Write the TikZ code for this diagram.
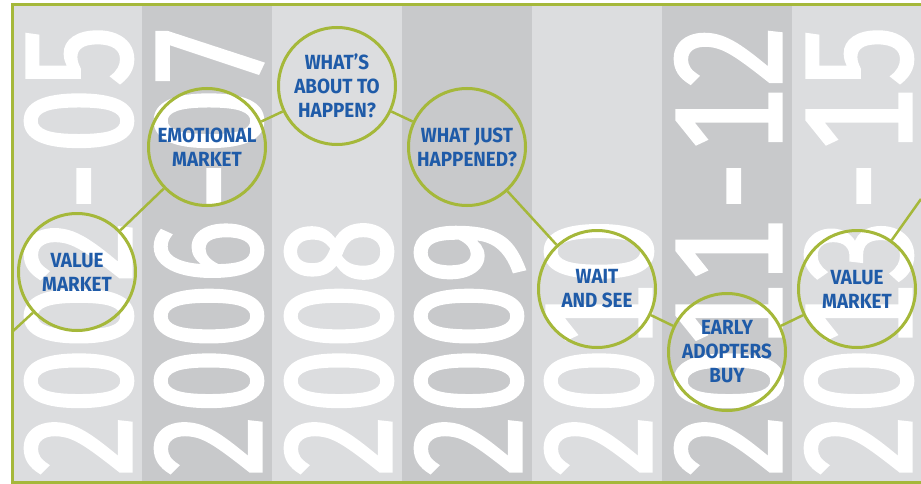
\documentclass[tikz,border=0pt]{standalone}
\usepackage{fontspec}
\usepackage{xcolor}
\setmainfont{Fira Sans}
\newfontfamily\yearfont[FakeStretch=0.765, FakeBold=2, Numbers=Monospaced]{Fira Sans}
\newfontfamily\labelfont[FakeStretch=0.92]{Fira Sans}
\usetikzlibrary{positioning}

\definecolor{stripelight}{HTML}{DCDDDF}
\definecolor{stripedark}{HTML}{C8C9CB}
\definecolor{framegreen}{HTML}{A5B83A}
\definecolor{labelblue}{HTML}{1F5BA8}

% wide dash between the years
\newcommand{\yrdash}{\makebox[66pt]{-}}

\begin{document}
\begin{tikzpicture}[
    x=1pt, y=-1pt,
    light/.style={fill=stripelight},
    dark/.style={fill=stripedark},
    yearlbl/.style={rotate=90, anchor=base west, inner sep=0pt, text=white,
        font=\yearfont\fontsize{151}{151}\selectfont},
    bubble/.style={circle, draw=framegreen, line width=3pt, minimum size=117pt,
        inner sep=0pt, align=center, text=labelblue,
        font=\labelfont\bfseries\fontsize{20.5}{24}\selectfont},
    link/.style={draw=framegreen, line width=2.5pt},
    border/.style={draw=framegreen, line width=3pt}
]
    \useasboundingbox (0,0) rectangle (921,484);

    % Stripes
    \fill[light] (12,5) rectangle (142,482);
    \fill[dark]  (142,5) rectangle (272,482);
    \fill[light] (272,5) rectangle (402,482);
    \fill[dark]  (402,5) rectangle (532,482);
    \fill[light] (532,5) rectangle (662,482);
    \fill[dark]  (662,5) rectangle (792,482);
    \fill[light] (792,5) rectangle (921,482);

    % Years
    \node[yearlbl] (y1) at (131,478) {2002\yrdash05};
    \node[yearlbl] (y2) at (261,478) {2006\yrdash07};
    \node[yearlbl] (y3) at (391,478) {2008};
    \node[yearlbl] (y4) at (521,478) {2009};
    \node[yearlbl] (y5) at (651,478) {2010};
    \node[yearlbl] (y6) at (781,478) {2011\yrdash12};
    \node[yearlbl] (y7) at (911,478) {2013\yrdash15};

    % Frame
    \draw[border] (921,5) -- (12,5) -- (12,482) -- (921,482);

    % Market phases
    \node[bubble] (vm1) at (77,272) {VALUE\\MARKET};
    \node[bubble] (emo) at (207,147) {EMOTIONAL\\MARKET};
    \node[bubble] (about) at (337,86) {WHAT’S\\ABOUT TO\\HAPPEN?};
    \node[bubble] (just) at (467,147) {WHAT JUST\\HAPPENED?};
    \node[bubble] (wait) at (597,289) {WAIT\\AND SEE};
    \node[bubble] (early) at (727,352) {EARLY\\ADOPTERS\\BUY};
    \node[bubble] (vm2) at (857,289) {VALUE\\MARKET};

    \coordinate (inL) at (12,332);
    \coordinate (outR) at (921,199);

    % Links
    \draw[link] (inL) -- (vm1);
    \draw[link] (vm1) -- (emo);
    \draw[link] (emo) -- (about);
    \draw[link] (about) -- (just);
    \draw[link] (just) -- (wait);
    \draw[link] (wait) -- (early);
    \draw[link] (early) -- (vm2);
    \draw[link] (vm2) -- (outR);
\end{tikzpicture}
\end{document}
